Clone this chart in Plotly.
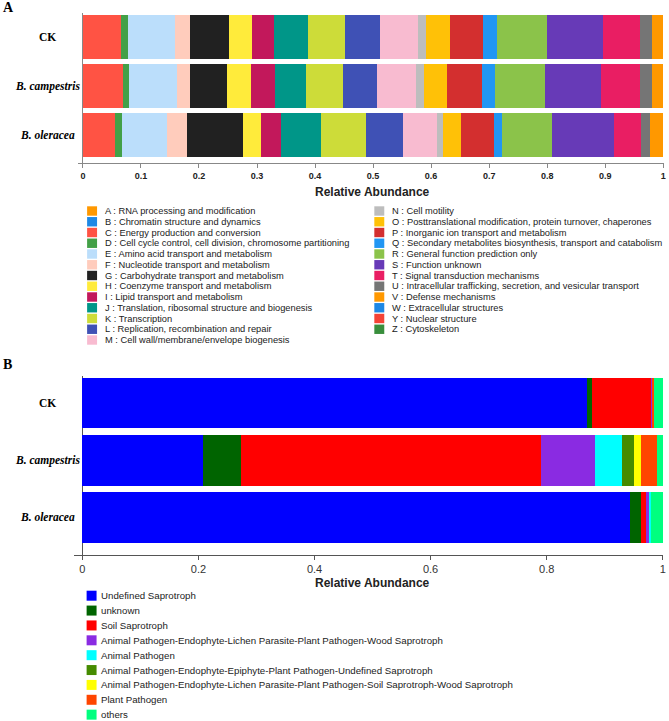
import plotly.graph_objects as go

W, H = 669, 721

samples = ["CK", "B. campestris", "B. oleracea"]
sample_labels = ["<b>CK</b>", "<b><i>B. campestris</i></b>", "<b><i>B. oleracea</i></b>"]

# ---- Panel A: COG categories ----
cog_names = [
    "A : RNA processing and modification",
    "B : Chromatin structure and dynamics",
    "C : Energy production and conversion",
    "D : Cell cycle control, cell division, chromosome partitioning",
    "E : Amino acid transport and metabolism",
    "F : Nucleotide transport and metabolism",
    "G : Carbohydrate transport and metabolism",
    "H : Coenzyme transport and metabolism",
    "I : Lipid transport and metabolism",
    "J : Translation, ribosomal structure and biogenesis",
    "K : Transcription",
    "L : Replication, recombination and repair",
    "M : Cell wall/membrane/envelope biogenesis",
    "N : Cell motility",
    "O : Posttranslational modification, protein turnover, chaperones",
    "P : Inorganic ion transport and metabolism",
    "Q : Secondary metabolites biosynthesis, transport and catabolism",
    "R : General function prediction only",
    "S : Function unknown",
    "T : Signal transduction mechanisms",
    "U : Intracellular trafficking, secretion, and vesicular transport",
    "V : Defense mechanisms",
    "W : Extracellular structures",
    "Y : Nuclear structure",
    "Z : Cytoskeleton",
]
cog_colors = [
    "#FF9800", "#1E88E5", "#FF5344", "#43A047", "#BBDEFB", "#FFCCBC", "#212121",
    "#FFEB3B", "#C2185B", "#009688", "#CDDC39", "#3F51B5", "#F8BBD0", "#BDBDBD",
    "#FFC107", "#D32F2F", "#2196F3", "#8BC34A", "#673AB7", "#E91E63", "#757575",
    "#FF9800", "#1E88E5", "#F44336", "#388E3C",
]
#            A  B  C      D      E      F      G      H      I      J      K      L      M      N      O      P      Q      R      S      T      U      V      W  Y  Z
cog_ck =    [0, 0, 0.066, 0.012, 0.080, 0.027, 0.066, 0.040, 0.038, 0.058, 0.065, 0.060, 0.066, 0.013, 0.041, 0.058, 0.023, 0.086, 0.098, 0.063, 0.021, 0.019, 0, 0, 0]
cog_camp =  [0, 0, 0.069, 0.011, 0.082, 0.023, 0.064, 0.040, 0.042, 0.053, 0.064, 0.059, 0.067, 0.013, 0.041, 0.059, 0.023, 0.087, 0.095, 0.068, 0.021, 0.019, 0, 0, 0]
cog_oler =  [0, 0, 0.055, 0.012, 0.078, 0.034, 0.097, 0.031, 0.034, 0.069, 0.077, 0.064, 0.059, 0.010, 0.032, 0.056, 0.014, 0.086, 0.107, 0.046, 0.016, 0.023, 0, 0, 0]

cog_ticks = [0, 0.1, 0.2, 0.3, 0.4, 0.5, 0.6, 0.7, 0.8, 0.9, 1]
cog_ticktext = ["0", "0.1", "0.2", "0.3", "0.4", "0.5", "0.6", "0.7", "0.8", "0.9", "1"]

# ---- Panel B: fungal guilds ----
guild_names = [
    "Undefined Saprotroph",
    "unknown",
    "Soil Saprotroph",
    "Animal Pathogen-Endophyte-Lichen Parasite-Plant Pathogen-Wood Saprotroph",
    "Animal Pathogen",
    "Animal Pathogen-Endophyte-Epiphyte-Plant Pathogen-Undefined Saprotroph",
    "Animal Pathogen-Endophyte-Lichen Parasite-Plant Pathogen-Soil Saprotroph-Wood Saprotroph",
    "Plant Pathogen",
    "others",
]
guild_colors = ["#0000FF", "#006400", "#FF0000", "#8A2BE2", "#00FFFF", "#458B00", "#FFFF00", "#FF4500", "#00FF7F"]
guild_ck =   [0.870, 0.008, 0.102, 0.002, 0.000, 0.000, 0.000, 0.003, 0.015]
guild_camp = [0.207, 0.066, 0.518, 0.092, 0.047, 0.021, 0.012, 0.027, 0.010]
guild_oler = [0.943, 0.020, 0.008, 0.006, 0.002, 0.000, 0.000, 0.000, 0.021]

guild_ticks = [0, 0.2, 0.4, 0.6, 0.8, 1]
guild_ticktext = ["0", "0.2", "0.4", "0.6", "0.8", "1"]

SANS = "Liberation Sans, Arial, sans-serif"
SERIF = "Liberation Serif, Times New Roman, serif"

fig = go.Figure()

for i, name in enumerate(cog_names):
    fig.add_trace(go.Bar(
        orientation="h", y=samples, x=[cog_ck[i], cog_camp[i], cog_oler[i]],
        name=name, marker=dict(color=cog_colors[i], line=dict(width=0)),
        width=0.9, xaxis="x", yaxis="y", showlegend=False))

for i, name in enumerate(guild_names):
    fig.add_trace(go.Bar(
        orientation="h", y=samples, x=[guild_ck[i], guild_camp[i], guild_oler[i]],
        name=name, marker=dict(color=guild_colors[i], line=dict(width=0)),
        width=0.885, xaxis="x2", yaxis="y2", showlegend=False))


def px_x(p):
    return p / W


def px_y(p):
    return 1 - p / H


annotations = []
shapes = []

# panel letters
annotations.append(dict(text="<b>A</b>", x=px_x(1), y=px_y(8), xref="paper", yref="paper",
                        xanchor="left", yanchor="middle", showarrow=False,
                        font=dict(family=SERIF, size=14, color="#000")))
annotations.append(dict(text="<b>B</b>", x=px_x(1), y=px_y(364), xref="paper", yref="paper",
                        xanchor="left", yanchor="middle", showarrow=False,
                        font=dict(family=SERIF, size=14, color="#000")))

# sample labels
for ax in ["y", "y2"]:
    for s, lab in zip(samples, sample_labels):
        annotations.append(dict(text=lab, x=px_x(48), y=s, xref="paper", yref=ax,
                                xanchor="center", yanchor="middle", showarrow=False,
                                font=dict(family=SERIF, size=11.5, color="#000")))

# axis titles
for ypix in [192, 583]:
    annotations.append(dict(text="<b>Relative Abundance</b>", x=px_x(374), y=px_y(ypix),
                            xref="paper", yref="paper", xanchor="center", yanchor="middle",
                            showarrow=False, font=dict(family=SANS, size=12, color="#222")))

# manual legend A (two columns)
rows_left = 13
for i, (name, col) in enumerate(zip(cog_names, cog_colors)):
    if i < rows_left:
        sx, tx, r = 87.5, 103, i
    else:
        sx, tx, r = 376, 392, i - rows_left
    cy = 211 + 10.75 * r
    shapes.append(dict(type="rect", xref="paper", yref="paper",
                       x0=px_x(sx), x1=px_x(sx + 10), y0=px_y(cy - 4.7), y1=px_y(cy + 4.7),
                       fillcolor=col, line=dict(width=0)))
    annotations.append(dict(text=name, x=px_x(tx), y=px_y(cy), xref="paper", yref="paper",
                            xanchor="left", yanchor="middle", showarrow=False,
                            font=dict(family=SANS, size=9.3, color="#1a1a1a")))

# manual legend B
for i, (name, col) in enumerate(zip(guild_names, guild_colors)):
    cy = 595.7 + 14.87 * i
    shapes.append(dict(type="rect", xref="paper", yref="paper",
                       x0=px_x(87), x1=px_x(97), y0=px_y(cy - 5), y1=px_y(cy + 5),
                       fillcolor=col, line=dict(width=0)))
    annotations.append(dict(text=name, x=px_x(99.5), y=px_y(cy), xref="paper", yref="paper",
                            xanchor="left", yanchor="middle", showarrow=False,
                            font=dict(family=SANS, size=9.7, color="#222")))

fig.update_layout(
    width=W, height=H, autosize=False,
    margin=dict(l=0, r=0, t=0, b=0, pad=0),
    paper_bgcolor="white", plot_bgcolor="white",
    barmode="stack",
    xaxis=dict(domain=[px_x(78), px_x(666.5)], range=[-0.0091, 1.0005], anchor="y",
               tickvals=cog_ticks, ticktext=cog_ticktext, ticks="outside", ticklen=4,
               tickcolor="#888", showline=True, linecolor="#888", linewidth=1,
               zeroline=True, zerolinecolor="#888", zerolinewidth=1, showgrid=False,
               tickfont=dict(family=SANS, size=9, color="#222", weight="bold")),
    yaxis=dict(domain=[px_y(163), px_y(13)], type="category", categoryarray=samples,
               range=[2.57, -0.49], anchor="x", showticklabels=False, ticks="",
               showline=False, showgrid=False, zeroline=False),
    xaxis2=dict(domain=[px_x(74), px_x(666)], range=[-0.015, 1.0005], anchor="y2",
                tickvals=guild_ticks, ticktext=guild_ticktext, ticks="outside", ticklen=4,
                tickcolor="#555", showline=True, linecolor="#555", linewidth=1.2,
                zeroline=True, zerolinecolor="#555", zerolinewidth=1.2, showgrid=False,
                tickfont=dict(family=SANS, size=11, color="#333")),
    yaxis2=dict(domain=[px_y(555), px_y(376)], type="category", categoryarray=samples,
                range=[2.655, -0.47], anchor="x2", showticklabels=False, ticks="",
                showline=False, showgrid=False, zeroline=False),
    annotations=annotations,
    shapes=shapes,
)

fig.write_html(
    "out.html",
    config={"displayModeBar": False},
    post_script="document.body.style.margin='0';document.body.style.padding='0';"
                "document.body.style.overflow='hidden';",
)
